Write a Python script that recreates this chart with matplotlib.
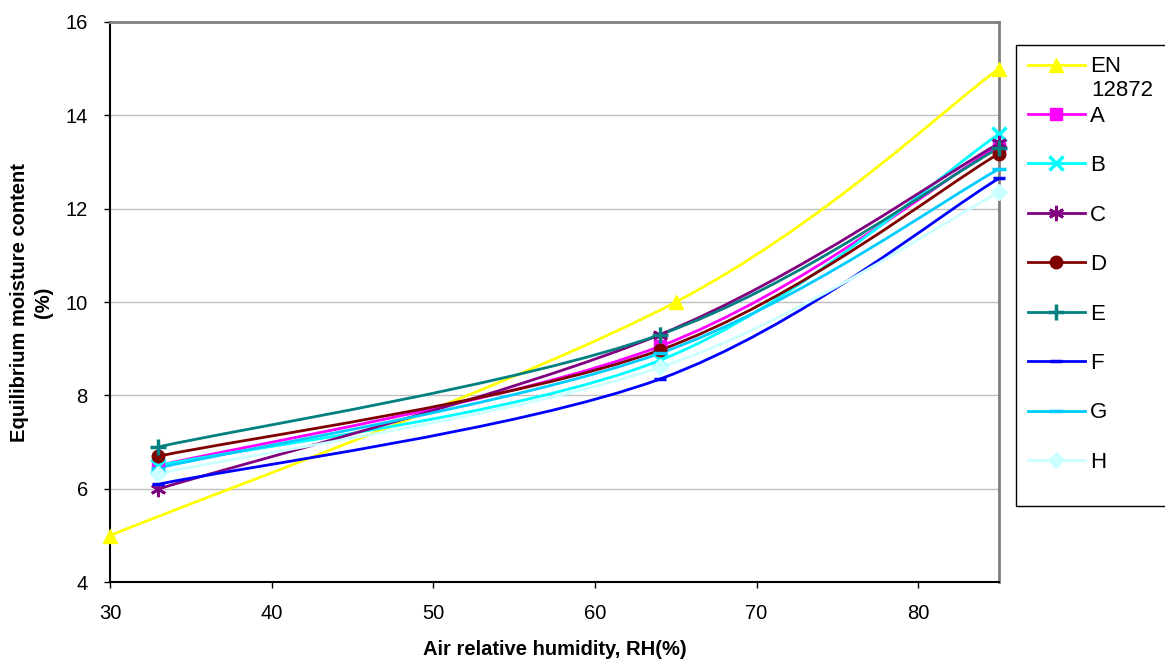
import matplotlib.pyplot as plt
import numpy as np
from matplotlib.path import Path
from matplotlib.patches import PathPatch, Rectangle
from matplotlib.lines import Line2D

plt.rcParams['font.family'] = ['Liberation Sans', 'DejaVu Sans']

# data
rh_en = [30, 65, 85]
emc_en = [5.0, 10.0, 15.0]

rh = [33, 64, 85]
emc_A = [6.5, 9.05, 13.35]
emc_B = [6.5, 8.75, 13.6]
emc_C = [6.0, 9.3, 13.4]
emc_D = [6.7, 8.97, 13.18]
emc_E = [6.9, 9.3, 13.3]
emc_F = [6.1, 8.35, 12.65]
emc_G = [6.45, 8.9, 12.85]
emc_H = [6.33, 8.6, 12.35]

labels = ['EN', 'A', 'B', 'C', 'D', 'E', 'F', 'G', 'H']
en_label_rest = '12872'  # second line of "EN 12872" in the legend
xs = [rh_en] + [rh] * 8
ys = [emc_en, emc_A, emc_B, emc_C, emc_D, emc_E, emc_F, emc_G, emc_H]
colors = ['#FFFF00', '#FF00FF', '#00FFFF', '#800080', '#800000',
          '#008080', '#0000FF', '#00CCFF', '#CCFFFF']
markers = ['^', 's', 'x', (6, 2, 0), 'o', '+', '_', '_', 'D']
msizes = [10, 8, 10, 11, 9, 11, 8, 10, 8]


def smooth_path(x, y):
    # Excel style smoothed line: cubic Bezier through the points
    pts = np.column_stack([x, y]).astype(float)
    n = len(pts)
    verts = [pts[0]]
    codes = [Path.MOVETO]
    for i in range(n - 1):
        p0 = pts[i - 1] if i > 0 else pts[i]
        p1 = pts[i]
        p2 = pts[i + 1]
        p3 = pts[i + 2] if i + 2 < n else pts[i + 1]
        verts += [p1 + (p2 - p0) / 6, p2 - (p3 - p1) / 6, p2]
        codes += [Path.CURVE4] * 3
    return Path(verts, codes)


fig = plt.figure(figsize=(11.65, 6.61), dpi=100)
ax = fig.add_axes([0.0944, 0.119, 0.7632, 0.848])

ax.set_xlim(30, 85)
ax.set_ylim(4, 16)
ax.set_xticks(range(30, 81, 10))
ax.set_yticks(range(4, 17, 2))
ax.grid(axis='y', color='#c0c0c0', linewidth=1)
ax.set_axisbelow(True)

handles = []
for x, y, c, m, s, lab in zip(xs, ys, colors, markers, msizes, labels):
    ax.add_patch(PathPatch(smooth_path(x, y), facecolor='none', edgecolor=c,
                           linewidth=2, zorder=3))
    mew = 2.5 if m in ['x', '+', '_'] else (2 if m == (6, 2, 0) else 1)
    ax.plot(x, y, linestyle='none', marker=m, color=c, markersize=s,
            markeredgewidth=mew, zorder=4, clip_on=False)
    handles.append(Line2D([], [], color=c, linewidth=2, marker=m,
                          markersize=s, markeredgewidth=mew, label=lab))

for sp in ['left', 'bottom']:
    ax.spines[sp].set_color('black')
    ax.spines[sp].set_linewidth(1.5)
for sp in ['top', 'right']:
    ax.spines[sp].set_color('#808080')
    ax.spines[sp].set_linewidth(2)

ax.tick_params(axis='both', labelsize=14.5, length=4.5, width=1,
               direction='out')
ax.tick_params(axis='x', pad=11)
ax.tick_params(axis='y', pad=11.5)

ax.set_xlabel('Air relative humidity, RH(%)', fontsize=14.5,
              fontweight='bold', labelpad=12)
ax.set_ylabel('Equilibrium moisture content\n(%)', fontsize=14.5,
              fontweight='bold', labelpad=9, linespacing=1.35)

# legend frame like the Excel one, cut at the right edge
fig.patches.append(Rectangle((0.872, 0.2345), 0.2, 0.697,
                             transform=fig.transFigure, facecolor='white',
                             edgecolor='black', linewidth=1, zorder=0))
leg = fig.legend(handles=handles, loc='upper left',
                 bbox_to_anchor=(0.8625, 0.95), fontsize=16, frameon=False,
                 handlelength=2.55, labelspacing=1.28, borderpad=0.55,
                 handletextpad=0.25)
fig.text(1091 / 1165, 1 - 91 / 661, en_label_rest, fontsize=16,
         ha='left', va='center')

fig.savefig('out.png', dpi=100)
